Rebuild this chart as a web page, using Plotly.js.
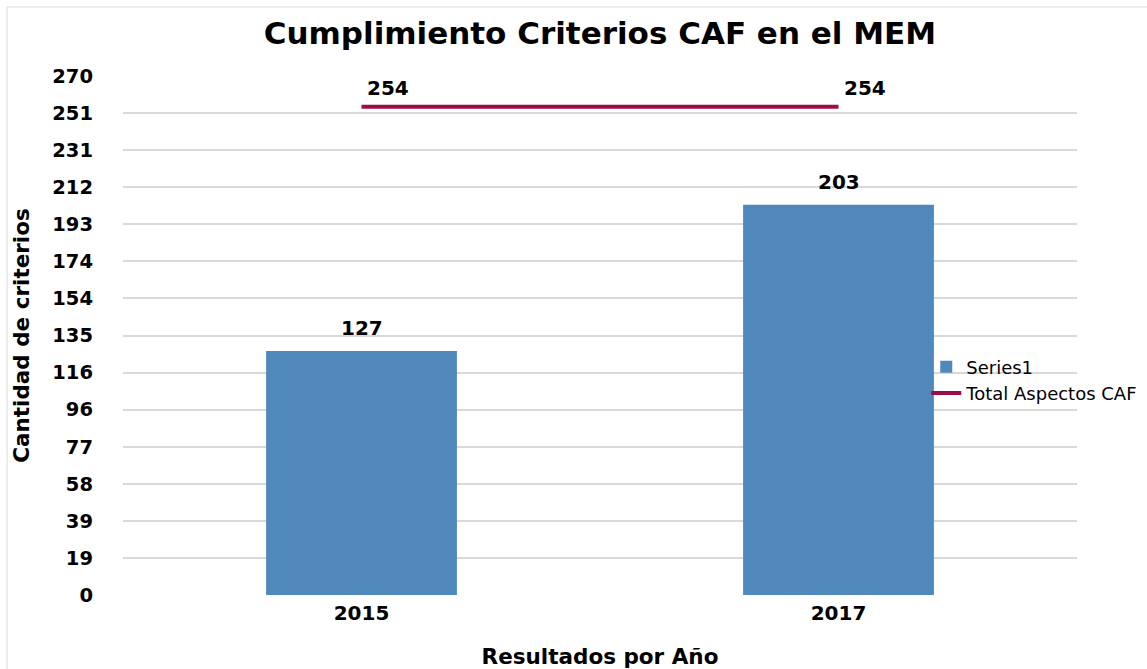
<!DOCTYPE html>
<html>
<head>
<meta charset="utf-8">
<script src="https://cdn.plot.ly/plotly-3.0.1.min.js"></script>
<style>
  html, body { margin: 0; padding: 0; background: #ffffff; }
  #chart { width: 1147px; height: 669px; }
</style>
</head>
<body>
<div id="chart"></div>
<script>
const years = ['2015', '2017'];
const seriesValues = [127, 203];
const totalValues = [254, 254];
const tickLabels = ['0', '19', '39', '58', '77', '96', '116', '135', '154', '174', '193', '212', '231', '251', '270'];
const axisMax = 270;

const tickVals = tickLabels.map((_, i) => i * axisMax / (tickLabels.length - 1));

const FONT = '"DejaVu Sans", Verdana, sans-serif';
const labelFont = { family: FONT, size: 20, color: '#000000', weight: 'bold' };

const traces = [
  {
    type: 'bar',
    name: 'Series1',
    x: years,
    y: seriesValues,
    width: 0.4,
    marker: { color: '#4F88BB' },
    hoverinfo: 'x+y'
  },
  {
    type: 'scatter',
    mode: 'lines',
    name: 'Total Aspectos CAF',
    x: years,
    y: totalValues,
    line: { color: '#9E0B45', width: 4 },
    cliponaxis: false
  }
];

// category axis: annotation x positions use the category index
const annotations = [];
years.forEach((yr, i) => {
  annotations.push({
    x: i, y: seriesValues[i], xref: 'x', yref: 'y',
    text: String(seriesValues[i]), showarrow: false,
    xanchor: 'center', yanchor: 'bottom', yshift: 9,
    font: labelFont
  });
  annotations.push({
    x: i, y: totalValues[i], xref: 'x', yref: 'y',
    text: String(totalValues[i]), showarrow: false,
    xanchor: 'left', yanchor: 'bottom', yshift: 5, xshift: 3,
    font: labelFont
  });
});

const layout = {
  width: 1147,
  height: 669,
  margin: { l: 123, r: 70, t: 76, b: 74, autoexpand: false },
  paper_bgcolor: '#ffffff',
  plot_bgcolor: '#ffffff',
  font: { family: FONT, color: '#000000' },
  title: {
    text: 'Cumplimiento Criterios CAF en el MEM',
    font: { family: FONT, size: 31, color: '#000000', weight: 'bold' },
    x: 0.523, xanchor: 'center',
    y: 0.951, yanchor: 'middle'
  },
  xaxis: {
    type: 'category',
    range: [-0.5, 1.5],
    showgrid: false,
    zeroline: false,
    showline: false,
    ticks: '',
    ticklabelstandoff: 4,
    tickfont: { family: FONT, size: 20, color: '#000000', weight: 'bold' },
    title: {
      text: 'Resultados por Año',
      font: { family: FONT, size: 21.5, color: '#000000', weight: 'bold' },
      standoff: 26
    }
  },
  yaxis: {
    range: [0, axisMax],
    tickmode: 'array',
    tickvals: tickVals,
    ticktext: tickLabels,
    showgrid: true,
    gridcolor: '#d9d9d9',
    gridwidth: 2,
    zeroline: false,
    showline: false,
    ticks: '',
    ticklabelstandoff: 29,
    tickfont: { family: FONT, size: 19.5, color: '#000000', weight: 'bold' },
    title: {
      text: 'Cantidad de criterios',
      font: { family: FONT, size: 21.5, color: '#000000', weight: 'bold' },
      standoff: 16
    }
  },
  bargap: 0.6,
  showlegend: true,
  legend: {
    x: 0.842, xanchor: 'left',
    y: 0.475, yanchor: 'top',
    bgcolor: 'rgba(0,0,0,0)',
    font: { family: FONT, size: 18, color: '#000000' },
    tracegroupgap: 0,
    itemwidth: 30
  },
  annotations: annotations,
  shapes: [
    {
      type: 'rect', xref: 'paper', yref: 'paper',
      x0: (7 - 123) / 954, x1: (1160 - 123) / 954,
      y0: (595 - 690) / 519, y1: (595 - 7) / 519,
      line: { color: '#d9d9d9', width: 1 },
      fillcolor: 'rgba(0,0,0,0)',
      layer: 'below'
    }
  ]
};

Plotly.newPlot('chart', traces, layout, { displayModeBar: false, staticPlot: true });
</script>
</body>
</html>
